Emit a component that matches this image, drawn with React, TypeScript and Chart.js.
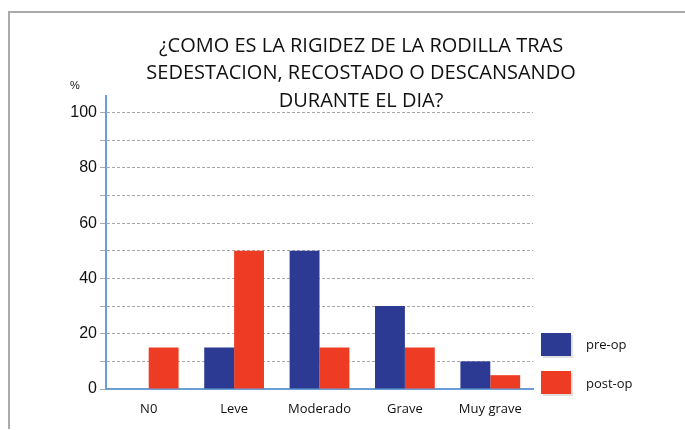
import React, { useEffect, useRef } from "react";
import { Chart, registerables } from "chart.js";

Chart.register(...registerables);

const categories = ["N0", "Leve", "Moderado", "Grave", "Muy grave"];
const preOp = [0, 15, 50, 30, 10];
const postOp = [15, 50, 15, 15, 5];
const gridValues = [0, 10, 20, 30, 40, 50, 60, 70, 80, 90, 100];
const yTicks = [0, 20, 40, 60, 80, 100];
const titleLines = [
  "¿COMO ES LA RIGIDEZ DE LA RODILLA TRAS",
  "SEDESTACION, RECOSTADO O DESCANSANDO",
  "DURANTE EL DIA?",
];
const seriesNames = ["pre-op", "post-op"];
const BLUE = "#2c3a93";
const RED = "#ee3c24";
const AXIS = "#6a9fd6";

const overlay = {
  id: "overlay",
  afterDraw(chart: any) {
    const ctx = chart.ctx;
    ctx.save();
    ctx.fillStyle = "#111";
    ctx.textAlign = "center";
    ctx.textBaseline = "middle";
    ctx.font = '20px "Liberation Sans Narrow", "Open Sans", sans-serif';
    const ys = [33, 60.5, 88];
    titleLines.forEach((t, i) => ctx.fillText(t, 351, ys[i]));
    ctx.font = '11px "Liberation Sans", Arial, sans-serif';
    ctx.fillText("%", 65, 73);
    const colors = [BLUE, RED];
    const boxY = [320, 358];
    const txtY = [332, 371];
    ctx.textAlign = "left";
    ctx.font = '13px "Open Sans", sans-serif';
    seriesNames.forEach((n, i) => {
      ctx.fillStyle = "rgba(0,0,0,0.12)";
      ctx.fillRect(533, boxY[i] + 2, 30, 23);
      ctx.fillStyle = colors[i];
      ctx.fillRect(531, boxY[i], 30, 23);
      ctx.fillStyle = "#111";
      ctx.fillText(n, 576, txtY[i]);
    });
    ctx.restore();
  },
};

export default function App() {
  const ref = useRef<HTMLCanvasElement>(null);
  useEffect(() => {
    const chart = new Chart(ref.current!, {
      type: "bar",
      data: {
        labels: categories,
        datasets: [
          { label: seriesNames[0], data: preOp, backgroundColor: BLUE },
          { label: seriesNames[1], data: postOp, backgroundColor: RED },
        ],
      },
      options: {
        animation: false,
        responsive: false,
        layout: { padding: { top: 83, right: 152, left: 0, bottom: 0 } },
        plugins: {
          legend: { display: false },
          title: { display: false },
          tooltip: { enabled: false },
        },
        datasets: {
          bar: { categoryPercentage: 0.7, barPercentage: 1 },
        },
        scales: {
          x: {
            grid: { display: false, drawTicks: false },
            border: { display: true, color: AXIS, width: 2 },
            ticks: {
              padding: 12,
              color: "#111",
              font: { family: '"Open Sans", sans-serif', size: 13 },
            },
            afterFit: (s: any) => {
              s.height = 40;
            },
          },
          y: {
            min: 0,
            max: 106,
            ticks: {
              padding: 3,
              color: "#111",
              font: { family: '"Liberation Sans", Arial, sans-serif', size: 16 },
              callback: (v: any) => (yTicks.includes(Number(v)) ? String(v) : ""),
            },
            afterBuildTicks: (s: any) => {
              s.ticks = gridValues.map((v) => ({ value: v }));
            },
            grid: {
              color: "#a8a8a8",
              lineWidth: 1,
              tickLength: 6,
              tickColor: "#a8a8a8",
            },
            border: { display: true, color: AXIS, width: 2, dash: [3, 2] as any },
            afterFit: (s: any) => {
              s.width = 96;
            },
          },
        },
      } as any,
      plugins: [overlay],
    });
    return () => chart.destroy();
  }, []);
  return (
    <div
      style={{
        position: "absolute",
        left: 8,
        top: 11,
        width: 675,
        height: 416,
        borderLeft: "2px solid #aaa",
        borderTop: "2px solid #aaa",
        background: "#fff",
        overflow: "hidden",
      }}
    >
      <canvas ref={ref} width={675} height={416} style={{ display: "block" }} />
    </div>
  );
}
